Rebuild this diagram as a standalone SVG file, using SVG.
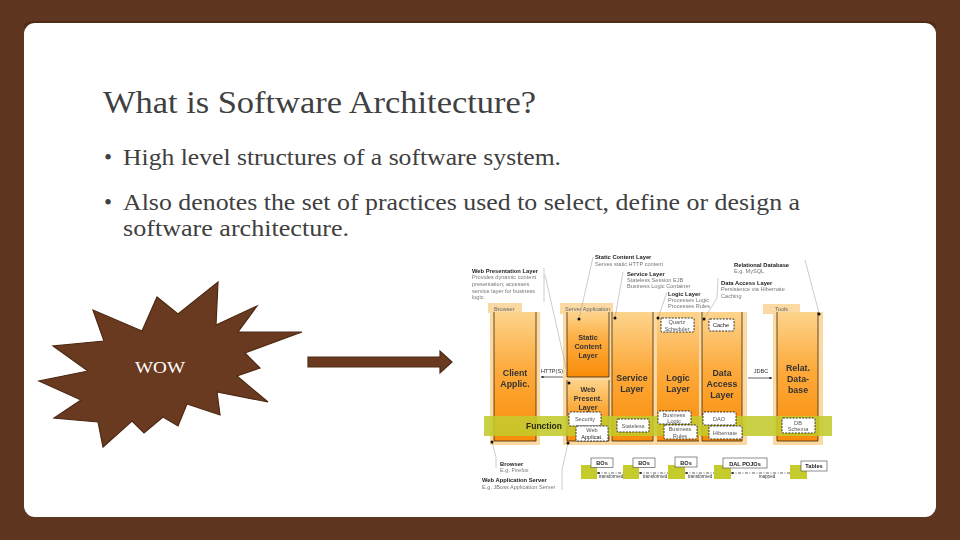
<svg xmlns="http://www.w3.org/2000/svg" width="960" height="540" viewBox="0 0 960 540">
<defs>
<linearGradient id="col" x1="0" y1="0" x2="0" y2="1"><stop offset="0" stop-color="#fdd48c"/><stop offset="0.45" stop-color="#fdaa3c"/><stop offset="1" stop-color="#f98c08"/></linearGradient>
<marker id="ah" viewBox="0 0 6 6" refX="5.5" refY="3" markerWidth="4" markerHeight="4" orient="auto-start-reverse"><path d="M0 0L6 3L0 6z" fill="#222"/></marker>
<filter id="soft" x="-2%" y="-2%" width="104%" height="104%"><feGaussianBlur stdDeviation="0.35"/></filter>
</defs>
<style>
.h{font-family:"Liberation Serif","Times New Roman",serif;fill:#404040}
.s{font-family:"Liberation Sans",Arial,sans-serif;fill:#333}
.t{font-size:5.6px;fill:#777}
.b{font-size:5.8px;font-weight:bold;fill:#222}
.c{font-size:8.8px;font-weight:bold;fill:#333;text-anchor:middle}
.e{font-size:7.2px;font-weight:bold;fill:#333;text-anchor:middle}
.d{font-size:5.6px;fill:#555;text-anchor:middle}
.m{font-size:4.6px;fill:#333;text-anchor:middle}
.k{font-size:5.6px;fill:#222;font-weight:bold;text-anchor:middle}
.outer{fill:#fcd9a0}
.inner{fill:url(#col)}
.dk{stroke:#3a2a10;stroke-width:.8;fill:none}
.tag{fill:#fbd9a2}
.box{fill:#fff;stroke:#222;stroke-width:.9;stroke-dasharray:2 1.2}
.sq{fill:#c4cb2c}
.solid{fill:#fff;stroke:#444;stroke-width:.6}
.call{stroke:#999;stroke-width:.5;fill:none}
.dot{fill:#111}
.dash{stroke:#222;stroke-width:.7;stroke-dasharray:3 1.5 1 1.5;fill:none}
</style>
<rect width="960" height="540" fill="#5f3720"/>
<rect x="24" y="21" width="912" height="10" rx="9" fill="#4f2c18"/>
<rect x="24" y="23" width="912" height="494" rx="11" fill="#fff"/>
<text class="h" x="103" y="113" font-size="32" textLength="433" lengthAdjust="spacingAndGlyphs">What is Software Architecture?</text>
<g id="bullets">
<text class="h" x="104" y="165" font-size="23">•</text>
<text class="h" x="123" y="165" font-size="24" textLength="438" lengthAdjust="spacingAndGlyphs">High level structures of a software system.</text>
<text class="h" x="104" y="210" font-size="23">•</text>
<text class="h" x="123" y="210" font-size="24" textLength="677" lengthAdjust="spacingAndGlyphs">Also denotes the set of practices used to select, define or design a</text>
<text class="h" x="123" y="236" font-size="24" textLength="226" lengthAdjust="spacingAndGlyphs">software architecture.</text>
</g>
<g id="wow">
<polygon points="218,282 216,325 257,306 238,332 302,332 245,353 260,368 237,376 268,402 217,392 220,415 187,404 178,426 163,417 144,433 132,421 103,447 98,422 54,418 81,400 39,381 88,371 53,346 104,341 93,310 142,331 157,297 178,314" fill="#6a3a20" stroke="#4d2a14" stroke-width="1.2"/>
<text x="135" y="373" font-family="Liberation Serif,serif" font-size="16" fill="#fff" textLength="50" lengthAdjust="spacingAndGlyphs">WOW</text>
</g>
<g id="big-arrow">
<polygon points="308,357 440,357 440,351 452,362 440,373 440,367 308,367" fill="#6a3a20" stroke="#4d2a14" stroke-width="1.2"/>
</g>
<g filter="url(#soft)">
<g id="client">
<rect class="tag" x="488" y="303" width="34" height="10"/>
<rect class="outer" x="490" y="312" width="50" height="133"/>
<rect class="inner" x="494" y="312" width="42" height="129"/>
<path class="dk" d="M494 312V441H536V312"/>
<text class="s t" x="494" y="311" style="fill:#666">Browser</text>
<text class="s c" x="515" y="376">Client</text>
<text class="s c" x="515" y="387">Applic.</text>
</g>
<g id="server">
<rect class="tag" x="560" y="303" width="53" height="11"/>
<rect class="outer" x="563" y="312" width="184" height="133"/>
<text class="s t" x="565" y="311" style="fill:#666">Server Application</text>
</g>
<g id="static-layer">
<rect class="inner" x="567" y="312" width="42" height="65"/>
<path class="dk" d="M567 312V377H609V312"/>
<text class="s e" x="588" y="340">Static</text>
<text class="s e" x="588" y="349">Content</text>
<text class="s e" x="588" y="358">Layer</text>
</g>
<g id="web-layer">
<rect class="inner" x="567" y="380" width="42" height="61"/>
<path class="dk" d="M567 441V380M609 380V441H567"/>
<text class="s e" x="588" y="392">Web</text>
<text class="s e" x="588" y="400.500">Present.</text>
<text class="s e" x="588" y="409.500">Layer</text>
</g>
<g id="service-layer">
<rect class="inner" x="612" y="312" width="41" height="129"/>
<path class="dk" d="M612 312V441H653V312"/>
<text class="s c" x="632" y="381">Service</text>
<text class="s c" x="632" y="392">Layer</text>
</g>
<g id="logic-layer">
<rect class="inner" x="657" y="312" width="42" height="129"/>
<path class="dk" d="M657 441H699"/>
<text class="s c" x="678" y="381">Logic</text>
<text class="s c" x="678" y="392">Layer</text>
</g>
<g id="data-layer">
<rect class="inner" x="702" y="312" width="40" height="129"/>
<path class="dk" d="M702 312V441H742V312"/>
<text class="s c" x="722" y="376">Data</text>
<text class="s c" x="722" y="387">Access</text>
<text class="s c" x="722" y="398">Layer</text>
</g>
<g id="db-column">
<rect class="tag" x="763" y="304" width="37" height="10"/>
<rect class="outer" x="773" y="312" width="50" height="133"/>
<rect class="inner" x="777" y="312" width="41" height="129"/>
<path class="dk" d="M777 312V441H818V312"/>
<text class="s t" x="775" y="311" style="fill:#666">Tools</text>
<text class="s c" x="798" y="371">Relat.</text>
<text class="s c" x="798" y="382">Data-</text>
<text class="s c" x="798" y="393">base</text>
</g>
<g id="function-band">
<rect x="484" y="416" width="348" height="20" fill="#c4cb2c" fill-opacity=".88"/>
<text class="s c" style="font-size:8.5px;fill:#2a2a10" x="544" y="429">Function</text>
</g>
<g id="components">
<rect class="box" x="661" y="318" width="33" height="14" rx="1"/><text class="s d" x="677" y="324">Quartz</text><text class="s d" x="677" y="330.500">Scheduler</text>
<rect class="box" x="709" y="319" width="25" height="12" rx="1"/><text class="s d" x="721" y="327" style="fill:#222">Cache</text>
<rect class="box" x="569" y="412" width="32" height="14" rx="1"/><text class="s d" x="585" y="421">Security</text>
<rect class="box" x="576" y="426" width="32" height="15" rx="1"/><text class="s d" x="592" y="432">Web</text><text class="s d" x="592" y="439" style="fill:#222">Applicat.</text>
<rect class="box" x="617" y="419" width="32" height="13" rx="1"/><text class="s d" x="633" y="427.500">Stateless</text>
<rect class="box" x="658" y="411" width="33" height="13" rx="1"/><text class="s d" x="674" y="416.500">Business</text><text class="s d" x="674" y="422.500">Logic</text>
<rect class="box" x="664" y="425" width="33" height="14" rx="1"/><text class="s d" x="680" y="431">Business</text><text class="s d" x="680" y="437.500">Rules</text>
<rect class="box" x="703" y="412" width="33" height="13" rx="1"/><text class="s d" x="719" y="420.500">DAO</text>
<rect class="box" x="709" y="426" width="33" height="13" rx="1"/><text class="s d" x="725" y="434.500">Hibernate</text>
<rect class="box" x="782" y="418" width="33" height="15" rx="1"/><text class="s d" x="798" y="424.500">DB</text><text class="s d" x="798" y="431">Schema</text>
</g>
<g id="bottom-row">
<rect class="sq" x="581" y="465" width="16" height="14"/>
<rect class="sq" x="623" y="465" width="16" height="14"/>
<rect class="sq" x="668" y="465" width="17" height="14"/>
<rect class="sq" x="714" y="465" width="17" height="14"/>
<rect class="sq" x="790" y="465" width="17" height="14"/>
<rect class="solid" x="591" y="458" width="22" height="9.500"/><text class="s k" x="602" y="465">BOs</text>
<rect class="solid" x="633" y="458" width="22" height="9.500"/><text class="s k" x="644" y="465">BOs</text>
<rect class="solid" x="675" y="457" width="22" height="10"/><text class="s k" x="686" y="464.500">BOs</text>
<rect class="solid" x="723" y="458" width="44" height="10"/><text class="s k" x="745" y="465.500">DAL POJOs</text>
<rect class="solid" x="801" y="461" width="26" height="10"/><text class="s k" x="814" y="468">Tables</text>
</g>
<g id="connectors">
<path class="call" d="M544 268V302M545 275L567 372M593 257L579 319M623 272L615 318M667 292L658 318M718 278L717 298L704 319M805 260L819 313M492 442L496 457V468M568 443L562 470V490"/>
<path d="M541 377H563M748 378H772" stroke="#222" stroke-width=".7" marker-start="url(#ah)" marker-end="url(#ah)" fill="none"/>
<path class="dash" d="M597 473H623" marker-start="url(#ah)"/>
<path class="dash" d="M639 473H668" marker-start="url(#ah)"/>
<path class="dash" d="M685 473H714" marker-start="url(#ah)"/>
<path class="dash" d="M731 473H790" marker-start="url(#ah)"/>
<g class="dot"><circle cx="579" cy="319" r="1.500"/><circle cx="615" cy="318" r="1.500"/><circle cx="658" cy="318" r="1.500"/><circle cx="704" cy="319" r="1.500"/><circle cx="819" cy="314" r="1.500"/><circle cx="569" cy="383" r="1.500"/><circle cx="492" cy="442" r="1.500"/><circle cx="568" cy="443" r="1.500"/></g>
</g>
<g id="labels">
<text class="s b" x="595" y="259">Static Content Layer</text><text class="s t" x="595" y="266">Serves static HTTP content</text>
<text class="s b" x="472" y="273">Web Presentation Layer</text>
<text class="s t" x="472" y="279">Provides dynamic content</text><text class="s t" x="472" y="286">presentation; accesses</text><text class="s t" x="472" y="293">service layer for business</text><text class="s t" x="472" y="299">logic.</text>
<text class="s b" x="627" y="276">Service Layer</text><text class="s t" x="627" y="282">Stateless Session EJB</text><text class="s t" x="627" y="288">Business Logic Container</text>
<text class="s b" x="668" y="296">Logic Layer</text><text class="s t" x="668" y="302">Processes Logic</text><text class="s t" x="668" y="308">Processes Rules</text>
<text class="s b" x="734" y="267">Relational Database</text><text class="s t" x="734" y="273">E.g. MySQL</text>
<text class="s b" x="721" y="285">Data Access Layer</text><text class="s t" x="721" y="291">Persistence via Hibernate</text><text class="s t" x="721" y="298">Caching</text>
<text class="s b" x="500" y="466">Browser</text><text class="s t" x="500" y="472">E.g. Firefox</text>
<text class="s b" x="482" y="482">Web Application Server</text><text class="s t" x="482" y="489">E.g. JBoss Application Server</text>
<text class="s d" x="552" y="373" style="fill:#333">HTTP(S)</text>
<text class="s d" x="761" y="373" style="fill:#333">JDBC</text>
<text class="s m" x="611" y="478">transformed</text>
<text class="s m" x="655" y="478">transformed</text>
<text class="s m" x="700" y="478">transformed</text>
<text class="s m" x="767" y="478">mapped</text>
</g>
</g>
</svg>
